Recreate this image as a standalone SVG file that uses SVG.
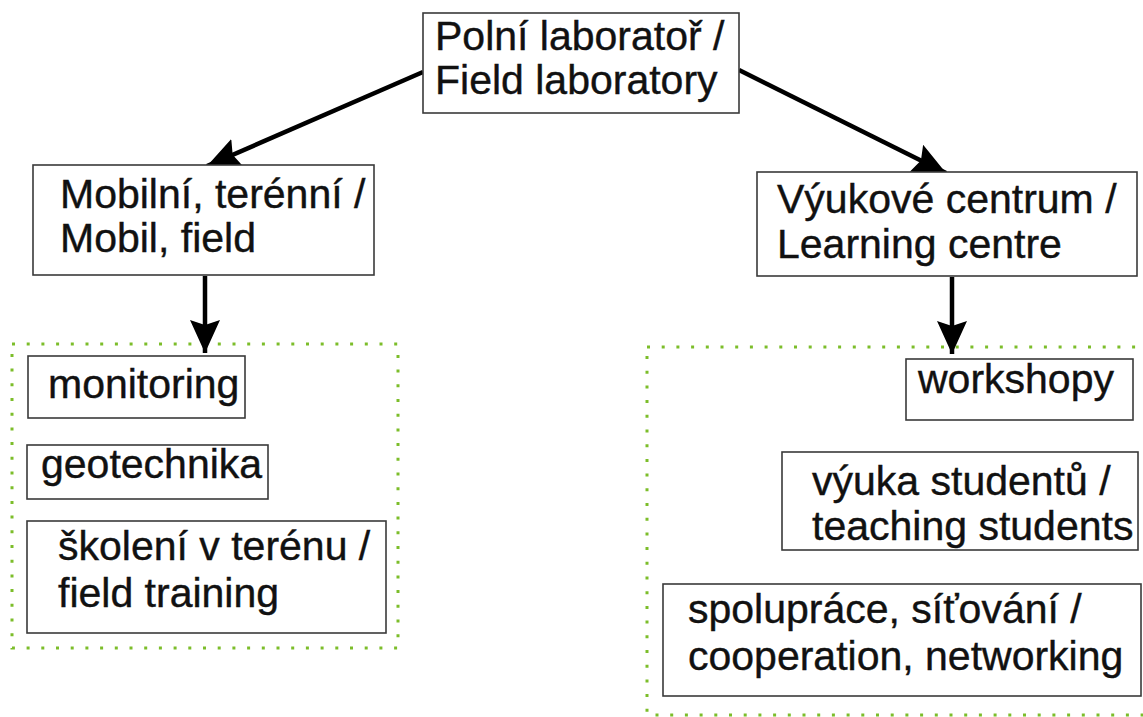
<svg xmlns="http://www.w3.org/2000/svg" width="1143" height="717" viewBox="0 0 1143 717">
<style>
.box{fill:#fff;stroke:#3a3a3a;stroke-width:1.6}
.grp{fill:none;stroke:#7cbd2a;stroke-width:3;stroke-dasharray:3 11.7}
.t{font-family:"Liberation Sans",Arial,sans-serif;font-size:41px;fill:#111;stroke:#111;stroke-width:0.4}
.conn{stroke:#000;stroke-width:4.5;fill:none;marker-end:url(#ah)}
</style>
<defs>
<marker id="ah" markerUnits="userSpaceOnUse" markerWidth="34" markerHeight="32" viewBox="0 0 34 32" refX="33" refY="16" orient="auto">
<path d="M0,1 L33,16 L0,31 L5,16 Z" fill="#000"/>
</marker>
</defs>
<rect width="1143" height="717" fill="#fff"/>
<g id="group-left"><rect class="grp" x="12" y="344" width="386" height="304"/></g>
<g id="group-right"><rect class="grp" x="647" y="347" width="520" height="368"/></g>
<g id="connectors">
<line class="conn" x1="423" y1="72" x2="207" y2="166"/>
<line class="conn" x1="739" y1="70" x2="946" y2="173"/>
<line class="conn" x1="205" y1="276" x2="205" y2="353"/>
<line class="conn" x1="952" y1="277" x2="952" y2="354"/>
</g>
<g id="node-polni"><rect class="box" x="423" y="13" width="316" height="100"/>
<text class="t" x="435" y="50">Polní laboratoř /</text><text class="t" x="435" y="94">Field laboratory</text></g>
<g id="node-mobilni"><rect class="box" x="33" y="165" width="341" height="110"/>
<text class="t" x="60" y="208">Mobilní, terénní /</text><text class="t" x="60" y="252">Mobil, field</text></g>
<g id="node-vyukove"><rect class="box" x="757" y="172" width="380" height="104"/>
<text class="t" x="777" y="213">Výukové centrum /</text><text class="t" x="777" y="258">Learning centre</text></g>
<g id="node-monitoring"><rect class="box" x="28" y="356" width="217" height="62"/>
<text class="t" x="48" y="398">monitoring</text></g>
<g id="node-geotechnika"><rect class="box" x="27" y="445" width="241" height="54"/>
<text class="t" x="41" y="478">geotechnika</text></g>
<g id="node-skoleni"><rect class="box" x="27" y="521" width="359" height="112"/>
<text class="t" x="58" y="560">školení v terénu /</text><text class="t" x="58" y="607">field training</text></g>
<g id="node-workshopy"><rect class="box" x="906" y="359" width="227" height="61"/>
<text class="t" x="918" y="393">workshopy</text></g>
<g id="node-vyuka"><rect class="box" x="782" y="452" width="356" height="98"/>
<text class="t" x="812" y="495">výuka studentů /</text><text class="t" x="812" y="540">teaching students</text></g>
<g id="node-spoluprace"><rect class="box" x="663" y="584" width="478" height="112"/>
<text class="t" x="688" y="623">spolupráce, síťování /</text><text class="t" x="688" y="670">cooperation, networking</text></g>
</svg>
